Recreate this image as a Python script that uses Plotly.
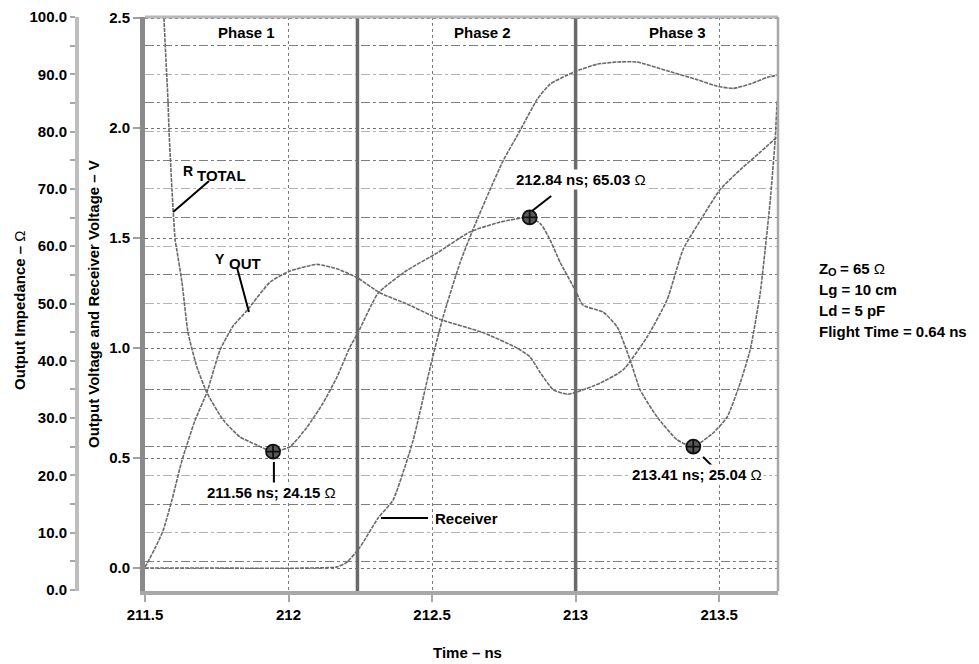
import plotly.graph_objects as go

# ---- data -------------------------------------------------------------
# Total output impedance (ohm) vs time (ns)
t_rtotal = [211.560, 211.566, 211.573, 211.580, 211.584, 211.594, 211.605, 211.611,
            211.629, 211.650, 211.681, 211.716, 211.772, 211.831, 211.890, 211.946,
            212.005, 212.064, 212.120, 212.169, 212.214, 212.242, 212.312, 212.413,
            212.517, 212.632, 212.737, 212.840, 212.880, 212.911, 212.946, 212.998,
            213.026, 213.096, 213.145, 213.190, 213.225, 213.284, 213.354, 213.410,
            213.479, 213.528, 213.573, 213.608, 213.643, 213.660, 213.678, 213.695,
            213.702]
r_total = [112.0, 100.0, 92.5, 85.5, 79.8, 69.8, 61.1, 59.3,
           53.6, 44.9, 38.9, 34.4, 29.7, 26.7, 25.3, 24.15,
           25.0, 28.4, 32.6, 37.2, 42.4, 44.9, 51.8, 55.8,
           58.8, 62.5, 64.2, 65.03, 63.8, 61.1, 57.2, 52.4,
           49.7, 48.5, 45.9, 40.1, 34.9, 30.2, 26.2, 25.04,
           27.4, 30.2, 36.1, 41.9, 51.8, 59.3, 68.0, 78.5,
           85.5]

# Output voltage (V) vs time (ns)
t_yout = [211.500, 211.507, 211.535, 211.563, 211.594, 211.629, 211.674, 211.716,
          211.761, 211.807, 211.855, 211.936, 212.005, 212.099, 212.169, 212.239,
          212.319, 212.413, 212.528, 212.678, 212.796, 212.841, 212.876, 212.922,
          212.970, 213.005, 213.085, 213.165, 213.249, 213.319, 213.375, 213.444,
          213.503, 213.573, 213.643, 213.702]
v_yout = [0.005, 0.02, 0.09, 0.17, 0.31, 0.49, 0.67, 0.80,
          0.99, 1.10, 1.17, 1.30, 1.35, 1.38, 1.36, 1.32,
          1.25, 1.20, 1.13, 1.07, 1.00, 0.96, 0.89, 0.81,
          0.79, 0.80, 0.84, 0.90, 1.05, 1.22, 1.45, 1.60,
          1.72, 1.81, 1.89, 1.96]

# Receiver voltage (V) vs time (ns)
t_recv = [211.500, 211.692, 212.169, 212.204, 212.249, 212.312, 212.364, 212.434,
          212.493, 212.538, 212.598, 212.643, 212.702, 212.747, 212.807, 212.866,
          212.911, 212.970, 213.005, 213.075, 213.145, 213.213, 213.319, 213.423,
          213.493, 213.549, 213.608, 213.667, 213.702]
v_recv = [0.0, 0.0, 0.005, 0.027, 0.095, 0.227, 0.309, 0.58,
          0.91, 1.14, 1.39, 1.54, 1.72, 1.85, 1.99, 2.13,
          2.20, 2.24, 2.26, 2.29, 2.30, 2.30, 2.26, 2.22,
          2.19, 2.18, 2.20, 2.23, 2.24]

# Marked impedance points
mark_t = [211.946, 212.84, 213.41]
mark_r = [24.15, 65.03, 25.04]
mark_text = ["211.56 ns; 24.15", "212.84 ns; 65.03", "213.41 ns; 25.04"]

# Phase boundaries and labels
phase_bounds = [212.24, 213.0]
phase_names = ["Phase 1", "Phase 2", "Phase 3"]
phase_label_t = [211.852, 212.674, 213.354]

# Axis ticks
x_ticks = [211.5, 212, 212.5, 213, 213.5]
x_ticktext = ["211.5", "212", "212.5", "213", "213.5"]
v_ticks = [0.0, 0.5, 1.0, 1.5, 2.0, 2.5]

# Test conditions (first line is built from Z, subscript O and the value)
z0_value = "= 65 <span style='font-weight:normal'>Ω</span>"
conditions = ["Lg = 10 cm", "Ld = 5 pF", "Flight Time = 0.64 ns"]

# ---- figure -----------------------------------------------------------
FONT = "Liberation Sans, Arial, Helvetica, sans-serif"
OHM = "<span style='font-weight:normal'>Ω</span>"
W, H = 979, 664
ML, MR, MT, MB = 60, 201, 17, 73
plot_w = W - ML - MR
plot_h = H - MT - MB
x_dom0 = (145 - ML) / plot_w


def px(x):
    """Horizontal pixel position -> paper fraction."""
    return (x - ML) / plot_w


def py(y):
    """Vertical pixel position -> paper fraction."""
    return (H - MB - y) / plot_h


trace_line = dict(color="#6a6a6a", width=1.6, dash="4px,1px")

fig = go.Figure()
fig.add_trace(go.Scatter(x=t_rtotal, y=r_total, yaxis="y2", mode="lines",
                         line=dict(shape="spline", smoothing=0.5, **trace_line),
                         name="R_TOTAL", showlegend=False))
fig.add_trace(go.Scatter(x=t_yout, y=v_yout, mode="lines",
                         line=dict(shape="spline", smoothing=0.5, **trace_line),
                         name="Y_OUT", showlegend=False))
fig.add_trace(go.Scatter(x=t_recv, y=v_recv, mode="lines",
                         line=dict(shape="spline", smoothing=0.5, **trace_line),
                         name="Receiver", showlegend=False))
fig.add_trace(go.Scatter(x=mark_t, y=mark_r, yaxis="y2", mode="markers",
                         marker=dict(symbol="circle-cross", size=14, color="#5a5a5a",
                                     line=dict(color="#111111", width=1.8)),
                         showlegend=False))

shapes = []
# phase boundaries
for b in phase_bounds:
    shapes.append(dict(type="line", xref="x", yref="paper", x0=b, x1=b, y0=0, y1=1,
                       line=dict(color="#6a6a6a", width=3.5)))
# top and right frame
shapes.append(dict(type="line", xref="paper", yref="paper", x0=x_dom0, x1=1, y0=1, y1=1,
                   line=dict(color="#b8b8b8", width=3)))
shapes.append(dict(type="line", xref="paper", yref="paper", x0=1, x1=1, y0=0, y1=1,
                   line=dict(color="#a8a8a8", width=2.5)))

annotations = []


def label(x, y, text, xanchor="center", xref="x", yref="y", size=15, **kw):
    annotations.append(dict(x=x, y=y, xref=xref, yref=yref, text=text,
                            xanchor=xanchor, yanchor="middle", showarrow=False,
                            font=dict(size=size), **kw))


def leader(x0, y0, x1, y1):
    shapes.append(dict(type="line", xref="x", yref="y", x0=x0, y0=y0, x1=x1, y1=y1,
                       line=dict(color="black", width=2)))


for name, tx in zip(phase_names, phase_label_t):
    label(tx, 2.436, name)

# R_TOTAL label
leader(211.598, 1.618, 211.723, 1.759)
label(211.674, 1.803, "R", xanchor="right", size=14)
label(211.674, 1.784, "TOTAL", xanchor="left")
# Y_OUT label
leader(211.821, 1.364, 211.862, 1.164)
label(211.786, 1.405, "Y", xanchor="right", size=14)
label(211.786, 1.386, "OUT", xanchor="left")
# Receiver label
leader(212.322, 0.227, 212.486, 0.227)
label(212.503, 0.227, "Receiver", xanchor="left")

# marker call-outs
label_pos = [(211.939, 0.345), (213.019, 1.764), (213.423, 0.423)]
leaders = [(211.949, 0.482, 211.949, 0.386),
           (212.848, 1.623, 212.915, 1.691),
           (213.444, 0.505, 213.479, 0.459)]
for txt, (lx, ly), ld in zip(mark_text, label_pos, leaders):
    leader(*ld)
    label(lx, ly, txt + " " + OHM, bgcolor="white", borderpad=1)

# test conditions
label(px(817), py(268), "Z", xanchor="left", xref="paper", yref="paper")
label(px(826), py(272), "O", xanchor="left", xref="paper", yref="paper", size=11)
label(px(838), py(268), z0_value, xanchor="left", xref="paper", yref="paper")
for i, line in enumerate(conditions, start=1):
    label(px(817), py(268 + 21.3 * i), line, xanchor="left",
          xref="paper", yref="paper")

# axis titles
label(px(467), py(652), "Time – ns", xref="paper", yref="paper")
label(px(19), py(310), "Output Impedance – " + OHM, xref="paper", yref="paper",
      textangle=-90)
label(px(93), py(304), "Output Voltage and Receiver Voltage – V", xref="paper",
      yref="paper", textangle=-90)

fig.update_layout(
    width=W, height=H,
    margin=dict(l=ML, r=MR, t=MT, b=MB, autoexpand=False),
    paper_bgcolor="white", plot_bgcolor="white",
    font=dict(family=FONT, size=15, color="black", weight="bold"),
    xaxis=dict(domain=[x_dom0, 1], range=[211.5, 213.705],
               tickvals=x_ticks, ticktext=x_ticktext,
               showgrid=True, gridcolor="#7a7a7a", griddash="dot", gridwidth=1.2,
               showline=True, linecolor="#a8a8a8", linewidth=4,
               ticks="outside", ticklen=7, tickwidth=2, tickcolor="#a8a8a8",
               zeroline=False, automargin=False),
    yaxis=dict(range=[-0.10455, 2.5046], tickvals=v_ticks,
               ticktext=[f"{v:.1f}" for v in v_ticks],
               showgrid=True, gridcolor="#707070", griddash="dot", gridwidth=1.2,
               showline=True, linecolor="#8a8a8a", linewidth=5,
               ticks="outside", ticklen=7, tickwidth=2, tickcolor="#a0a0a0",
               zeroline=False, automargin=False),
    yaxis2=dict(range=[-0.17, 100], overlaying="y", anchor="free",
                position=px(77), side="left",
                tickmode="linear", tick0=0, dtick=10, tickformat=".1f",
                showgrid=True, gridcolor="#b4b4b4", griddash="dashdot", gridwidth=1.2,
                minor=dict(tick0=0, dtick=5, ticks="outside", ticklen=5,
                           tickwidth=2, tickcolor="#a8a8a8", showgrid=True,
                           gridcolor="#7e7e7e", griddash="dashdot", gridwidth=1.2),
                showline=True, linecolor="#bdbdbd", linewidth=4,
                ticks="outside", ticklen=5, tickwidth=2, tickcolor="#a8a8a8",
                zeroline=False, automargin=False),
    shapes=shapes,
    annotations=annotations,
)

fig.write_html("out.html")
